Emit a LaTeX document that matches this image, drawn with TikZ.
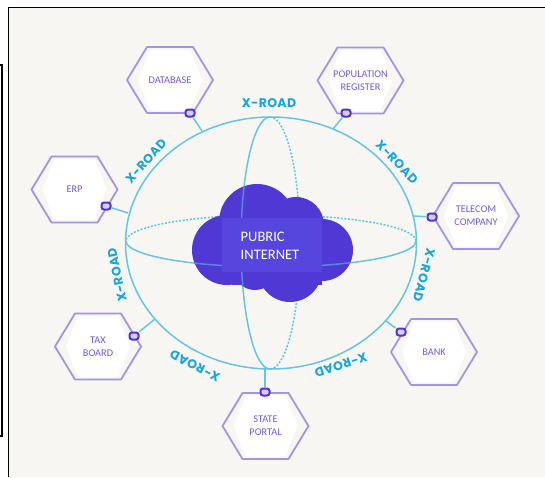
\documentclass[tikz,border=0pt]{standalone}
\usepackage{fontspec}
\newfontfamily\hexfont{Carlito}
\newfontfamily\xrfont[LetterSpace=3]{Poppins}
\usetikzlibrary{calc}
\definecolor{bgc}{RGB}{247,246,242}
\definecolor{sphc}{RGB}{100,198,226}
\definecolor{xrc}{RGB}{22,165,225}
\definecolor{hexc}{RGB}{163,148,230}
\definecolor{hext}{RGB}{112,92,232}
\definecolor{cloudc}{RGB}{80,56,212}
\definecolor{rectc}{RGB}{86,70,222}
\definecolor{iconc}{RGB}{84,52,212}
\definecolor{iconf}{RGB}{214,206,246}
\tikzset{
  sph/.style={draw=sphc, line width=1.5pt},
  sphdot/.style={draw=sphc, line width=1.5pt, dash pattern=on 2pt off 1.6pt},
  hexline/.style={draw=hexc, line width=1.8pt, fill=bgc, line join=round},
  hextxt/.style={text=hext, font=\hexfont\fontsize{10.3}{12.8}\selectfont, align=center, inner sep=0pt},
  xr/.style={text=xrc, font=\xrfont\bfseries\fontsize{12.5}{13}\selectfont, inner sep=0pt},
  icon/.style={draw=iconc, fill=iconf, line width=2pt, rounded corners=2.5pt, minimum width=9pt, minimum height=7pt, inner sep=0pt},
}
\newcommand{\hexbox}[4]{%
  \begin{scope}[shift={(#2,#3)}]
    \draw[hexline] (-43,0) -- (-23,-33) -- (23,-33) -- (43,0) -- (23,33) -- (-23,33) -- cycle;
    \fill[white] (-32,0) -- (-20,-30.5) -- (20,-30.5) -- (32,0) -- (20,30.5) -- (-20,30.5) -- cycle;
  \end{scope}%
  \node[hextxt] (#1) at (#2,#3) {#4};%
}
\begin{document}
\begin{tikzpicture}[x=1pt,y=-1pt]
\useasboundingbox (0,0) rectangle (545,477);
\fill[white] (0,0) rectangle (545,477);
\fill[bgc] (8.5,7.5) rectangle (545,477);
\draw[black, line width=1.7pt] (8.5,477) -- (8.5,7.5) -- (545,7.5);
\draw[black, line width=1.5pt] (0,65) -- (2,65) -- (2,436) -- (0,436);

% sphere
\draw[sph] (271,243) ellipse [x radius=145.5pt, y radius=126pt];
\draw[sphdot] (416,241) arc[start angle=0, end angle=180, x radius=145pt, y radius=26pt];
\draw[sphdot] (270,117) arc[start angle=90, end angle=-90, x radius=30pt, y radius=126pt];
\draw[sph] (416,241) arc[start angle=0, end angle=-180, x radius=145pt, y radius=26pt];
\draw[sph] (270,117) arc[start angle=90, end angle=270, x radius=29pt, y radius=126pt];

% cloud
\newcommand{\cloudshape}{(227,250) circle[radius=35pt] (257,222) circle[radius=38pt] (296,225) circle[radius=28pt] (322,250) circle[radius=31pt] (255,268) circle[radius=22pt] (290,270) circle[radius=32pt]}
\fill[cloudc] \cloudshape;
\fill[cloudc] (232,225) rectangle (322,285);
\begin{scope}
  \clip \cloudshape;
  \draw[sph, opacity=0.55] (416,241) arc[start angle=0, end angle=-180, x radius=145pt, y radius=26pt];
  \draw[sph, opacity=0.55] (270,117) arc[start angle=90, end angle=270, x radius=29pt, y radius=126pt];
\end{scope}
\fill[rectc] (222,218) rectangle (322,272);
\node[text=white, font=\hexfont\fontsize{14.5}{18}\selectfont, align=left, inner sep=0pt] (pub) at (270,246) {PUBRIC\\INTERNET};

% circle attachment points
\coordinate (dbC) at (202,131);
\coordinate (popC) at (333,129);
\coordinate (erpC) at (128,213);
\coordinate (telC) at (414,216);
\coordinate (taxC) at (155,319);
\coordinate (bankC) at (386,321);
\coordinate (stC) at (265,369);

% hexagons
\hexbox{db}{170}{80}{DATABASE}
\hexbox{pop}{360.5}{80.5}{POPULATION\\REGISTER}
\hexbox{erp}{74.5}{189.5}{ERP}
\hexbox{tel}{476}{216}{TELECOM\\COMPANY}
\hexbox{tax}{98}{346.5}{TAX\\BOARD}
\hexbox{bank}{434}{352}{BANK}
\hexbox{st}{265.5}{426}{STATE\\PORTAL}

% icons
\node[icon] (dbI) at (190,113) {};
\node[icon] (popI) at (346,113) {};
\node[icon] (erpI) at (106,206) {};
\node[icon] (telI) at (432,217) {};
\node[icon] (taxI) at (134,336) {};
\node[icon] (bankI) at (401,332) {};
\node[icon] (stI) at (265,392) {};

% connectors
\draw[sph] (dbI) -- (dbC);
\draw[sph] (popI) -- (popC);
\draw[sph] (erpI) -- (erpC);
\draw[sph] (telI) -- (telC);
\draw[sph] (taxI) -- (taxC);
\draw[sph] (bankI) -- (bankC);
\draw[sph] (stI) -- (stC);

% labels
\node[xr] (l1) at (269,103) {X-ROAD};
\node[xr, rotate=48] (l2) at (146,161) {X-ROAD};
\node[xr, rotate=-46] (l3) at (397,162) {X-ROAD};
\node[xr, rotate=102] (l4) at (117,275) {X-ROAD};
\node[xr, rotate=-105] (l5) at (424,275) {X-ROAD};
\node[xr, rotate=153] (l6) at (195,366) {X-ROAD};
\node[xr, rotate=198] (l7) at (341,365) {X-ROAD};
\end{tikzpicture}
\end{document}
